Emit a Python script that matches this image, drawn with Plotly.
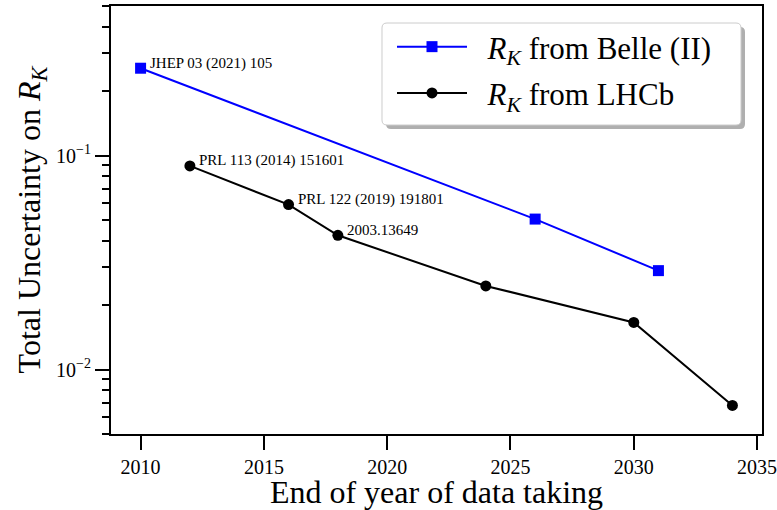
import math
import plotly.graph_objects as go

# Projected / measured total uncertainty on R_K versus end year of data taking
belle_years = [2010, 2026, 2031]
belle_unc = [0.256, 0.0505, 0.029]

lhcb_years = [2012, 2016, 2018, 2024, 2030, 2034]
lhcb_unc = [0.0895, 0.059, 0.0424, 0.0246, 0.0166, 0.0068]

# reference labels attached to individual measurements: (series, index, text)
ref_labels = [
    ("belle", 0, "JHEP 03 (2021) 105"),
    ("lhcb", 0, "PRL 113 (2014) 151601"),
    ("lhcb", 1, "PRL 122 (2019) 191801"),
    ("lhcb", 2, "2003.13649"),
]

x_ticks = [2010, 2015, 2020, 2025, 2030, 2035]
y_ticks = [0.01, 0.1]
y_ticktext = ["10<sup>\u22122</sup>", "10<sup>\u22121</sup>"]
y_minor = [0.005, 0.006, 0.007, 0.008, 0.009,
           0.02, 0.03, 0.04, 0.05, 0.06, 0.07, 0.08, 0.09,
           0.2, 0.3, 0.4, 0.5]

FONT = "Liberation Serif"
W, H = 777, 510
ML, MR, MT, MB = 111, 15, 6, 76
PW, PH = W - ML - MR, H - MT - MB

RK = "<i>R</i><sub><i>K</i></sub>"
PAD = "\u00a0\u00a0"

fig = go.Figure()
fig.add_trace(go.Scatter(
    x=belle_years, y=belle_unc, mode="lines+markers",
    name=f"{PAD}{RK} from Belle (II)", legendgroup="belle",
    line=dict(color="#0000ff", width=2),
    marker=dict(symbol="square", size=11, color="#0000ff"),
))
fig.add_trace(go.Scatter(
    x=lhcb_years, y=lhcb_unc, mode="lines+markers",
    name=f"{PAD}{RK} from LHCb", legendgroup="lhcb",
    line=dict(color="black", width=2),
    marker=dict(symbol="circle", size=11, color="black"),
))

series = {"belle": (belle_years, belle_unc), "lhcb": (lhcb_years, lhcb_unc)}
for key, idx, text in ref_labels:
    xs, ys = series[key]
    fig.add_annotation(
        x=xs[idx], y=math.log10(ys[idx]), xref="x", yref="y",
        text=text, showarrow=False, xanchor="left", yanchor="middle",
        xshift=7, yshift=5, font=dict(family=FONT, size=15, color="black"),
    )


def px_to_paper(px, py):
    return (px - ML) / PW, (H - MB - py) / PH


def rounded_rect(x0, y0, x1, y1, r):
    # rounded rectangle given in pixel coordinates, returned as a paper-space path
    def P(x, y):
        u, v = px_to_paper(x, y)
        return f"{u:.5f},{v:.5f}"
    return (f"M{P(x0 + r, y0)} L{P(x1 - r, y0)} Q{P(x1, y0)} {P(x1, y0 + r)} "
            f"L{P(x1, y1 - r)} Q{P(x1, y1)} {P(x1 - r, y1)} "
            f"L{P(x0 + r, y1)} Q{P(x0, y1)} {P(x0, y1 - r)} "
            f"L{P(x0, y0 + r)} Q{P(x0, y0)} {P(x0 + r, y0)} Z")


# legend frame with drop shadow
fig.add_shape(type="path", xref="paper", yref="paper", layer="above",
              path=rounded_rect(386, 27, 745, 129, 5),
              fillcolor="rgba(110,110,110,0.55)", line=dict(width=0))
fig.add_shape(type="path", xref="paper", yref="paper", layer="above",
              path=rounded_rect(382, 23, 741, 125, 5),
              fillcolor="white", line=dict(color="#cccccc", width=1))

axis_common = dict(
    showline=True, linecolor="black", linewidth=2, mirror=True,
    ticks="outside", ticklen=14, tickwidth=2, tickcolor="black",
    showgrid=False, zeroline=False, ticklabeloverflow="allow",
    automargin=False,
    tickfont=dict(family=FONT, size=20, color="black"),
)

fig.update_layout(
    width=W, height=H, autosize=False,
    margin=dict(l=ML, r=MR, t=MT, b=MB, autoexpand=False),
    paper_bgcolor="white", plot_bgcolor="white",
    font=dict(family=FONT, color="black"),
    xaxis=dict(
        range=[2008.8, 2035.2], tickvals=x_ticks,
        title=dict(text="End of year of data taking",
                   font=dict(family=FONT, size=32, color="black"), standoff=9),
        **axis_common,
    ),
    yaxis=dict(
        type="log", range=[math.log10(0.005), math.log10(0.5)],
        tickvals=y_ticks, ticktext=y_ticktext,
        minor=dict(tickvals=y_minor, ticks="outside", ticklen=7,
                   tickwidth=1.5, tickcolor="black", showgrid=False),
        title=dict(text=f"Total Uncertainty on {RK}",
                   font=dict(family=FONT, size=32, color="black"), standoff=6),
        **axis_common,
    ),
    showlegend=True,
    legend=dict(
        x=px_to_paper(392, 0)[0], y=px_to_paper(0, 20)[1],
        xanchor="left", yanchor="top",
        bgcolor="rgba(0,0,0,0)", borderwidth=0,
        font=dict(family=FONT, size=31, color="black"),
        itemwidth=70, traceorder="grouped", tracegroupgap=3,
    ),
)

fig.write_html("out.html")
